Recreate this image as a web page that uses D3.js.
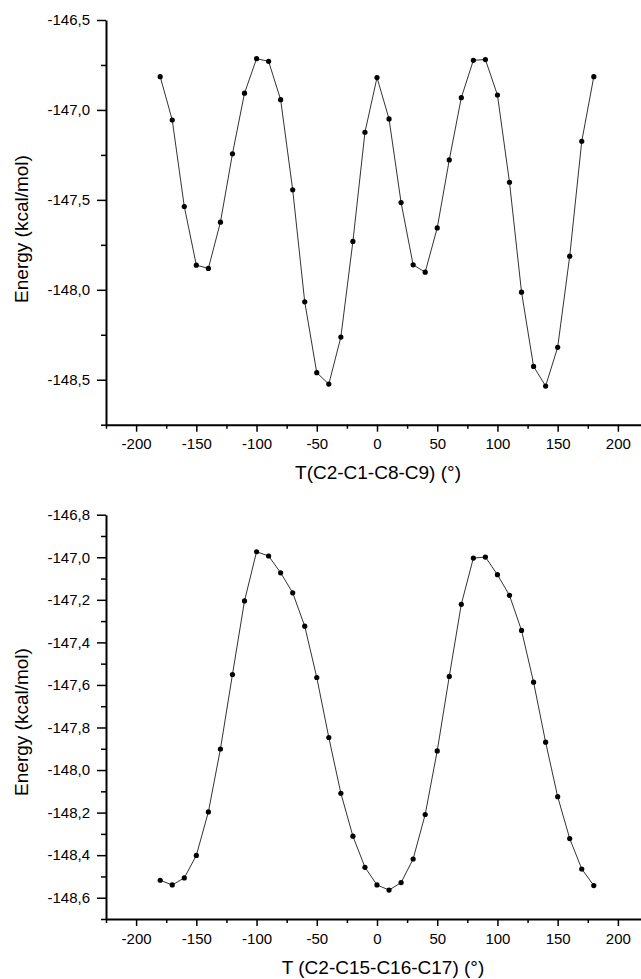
<!DOCTYPE html>
<html>
<head>
<meta charset="utf-8">
<script src="https://cdn.jsdelivr.net/npm/d3@7"></script>
<style>
  body { margin: 0; background: #fff; }
  svg { display: block; font-family: "Liberation Sans", Arial, sans-serif; }
</style>
</head>
<body>
<div id="graph"></div>
<script>
const width = 641;
const height = 979;

// torsion angles (deg)
const angles = [-180, -170, -160, -150, -140, -130, -120, -110, -100, -90,
  -80, -70, -60, -50, -40, -30, -20, -10, 0, 10, 20, 30, 40, 50, 60, 70,
  80, 90, 100, 110, 120, 130, 140, 150, 160, 170, 180];

// T(C2-C1-C8-C9) scan
const energyC8 = [-146.815, -147.056, -147.537, -147.863, -147.881, -147.624,
  -147.244, -146.907, -146.715, -146.730, -146.943, -147.444, -148.067,
  -148.461, -148.524, -148.263, -147.731, -147.124, -146.820, -147.050,
  -147.515, -147.861, -147.902, -147.656, -147.278, -146.932, -146.724,
  -146.720, -146.917, -147.402, -148.013, -148.426, -148.535, -148.320,
  -147.813, -147.174, -146.815];

// T(C2-C15-C16-C17) scan
const energyC16 = [-148.518, -148.540, -148.507, -148.401, -148.197, -147.901,
  -147.551, -147.205, -146.974, -146.994, -147.073, -147.167, -147.324,
  -147.565, -147.847, -148.109, -148.311, -148.457, -148.540, -148.564,
  -148.529, -148.418, -148.209, -147.910, -147.560, -147.221, -147.004,
  -146.999, -147.082, -147.179, -147.344, -147.587, -147.869, -148.125,
  -148.322, -148.465, -148.543];

const xTicks = [-200, -150, -100, -50, 0, 50, 100, 150, 200];
const xMinor = [-225, -175, -125, -75, -25, 25, 75, 125, 175, 225];
const yTicksTop = [-146.5, -147.0, -147.5, -148.0, -148.5];
const yMinorTop = [-146.75, -147.25, -147.75, -148.25, -148.75];
const yTicksBottom = [-146.8, -147.0, -147.2, -147.4, -147.6, -147.8, -148.0, -148.2, -148.4, -148.6];
const yMinorBottom = [-146.9, -147.1, -147.3, -147.5, -147.7, -147.9, -148.1, -148.3, -148.5, -148.7];

const svg = d3.select("#graph")
  .append("svg")
  .attr("width", width)
  .attr("height", height)
  .attr("viewBox", `0 0 ${width} ${height}`);

const x = d3.scaleLinear()
  .domain([-225, 225])
  .range([106, 648]);

const fmt = d => d3.format(".1f")(d).replace(".", ",").replace("−", "-");

function drawPanel(opts) {
  const y = d3.scaleLinear()
    .domain(opts.yDomain)
    .range([opts.bottom, opts.top]);

  const g = svg.append("g");

  // minor ticks first
  g.append("g")
    .attr("transform", `translate(0, ${opts.bottom})`)
    .call(d3.axisBottom(x).tickValues(xMinor).tickSize(4).tickFormat(""))
    .call(a => a.select(".domain").remove());
  g.append("g")
    .attr("transform", `translate(${x(-225)}, 0)`)
    .call(d3.axisLeft(y).tickValues(opts.yMinor).tickSize(5).tickFormat(""))
    .call(a => a.select(".domain").remove());

  const xAxis = g.append("g")
    .attr("transform", `translate(0, ${opts.bottom})`)
    .call(d3.axisBottom(x).tickValues(xTicks).tickSizeInner(7).tickSizeOuter(0).tickPadding(7)
      .tickFormat(d => String(d)));
  const yAxis = g.append("g")
    .attr("transform", `translate(${x(-225)}, 0)`)
    .call(d3.axisLeft(y).tickValues(opts.yTicks).tickSizeInner(9).tickSizeOuter(0).tickPadding(7)
      .tickFormat(fmt));

  g.selectAll(".tick line").attr("stroke", "#000").attr("stroke-width", 1.5);
  g.selectAll(".domain").attr("stroke", "#000").attr("stroke-width", 2);
  g.selectAll(".tick text").attr("font-size", 15).attr("fill", "#000")
    .attr("font-family", "'Liberation Sans', Arial, sans-serif");

  const line = d3.line()
    .x((d, i) => x(angles[i]))
    .y(d => y(d));
  g.append("path")
    .datum(opts.values)
    .attr("fill", "none")
    .attr("stroke", "#333")
    .attr("stroke-width", 1)
    .attr("d", line);

  g.selectAll("circle.pt")
    .data(opts.values)
    .join("circle")
    .attr("class", "pt")
    .attr("cx", (d, i) => x(angles[i]))
    .attr("cy", d => y(d))
    .attr("r", 2.6)
    .attr("fill", "#000");

  // Axis labels
  g.append("text")
    .attr("text-anchor", "middle")
    .attr("x", opts.xLabelX)
    .attr("y", opts.xLabelY)
    .attr("font-size", 19)
    .text(opts.xLabel);
  g.append("text")
    .attr("text-anchor", "middle")
    .attr("transform", `translate(28, ${opts.yLabelY}) rotate(-90)`)
    .attr("font-size", 19)
    .text("Energy (kcal/mol)");
}

drawPanel({
  values: energyC8,
  yDomain: [-148.75, -146.5],
  top: 20,
  bottom: 424.7,
  yTicks: yTicksTop,
  yMinor: yMinorTop,
  xLabel: "T(C2-C1-C8-C9) (°)",
  xLabelX: 378,
  xLabelY: 479,
  yLabelY: 229
});

drawPanel({
  values: energyC16,
  yDomain: [-148.7, -146.8],
  top: 514.7,
  bottom: 919,
  yTicks: yTicksBottom,
  yMinor: yMinorBottom,
  xLabel: "T (C2-C15-C16-C17) (°)",
  xLabelX: 383,
  xLabelY: 974,
  yLabelY: 722
});
</script>
</body>
</html>
